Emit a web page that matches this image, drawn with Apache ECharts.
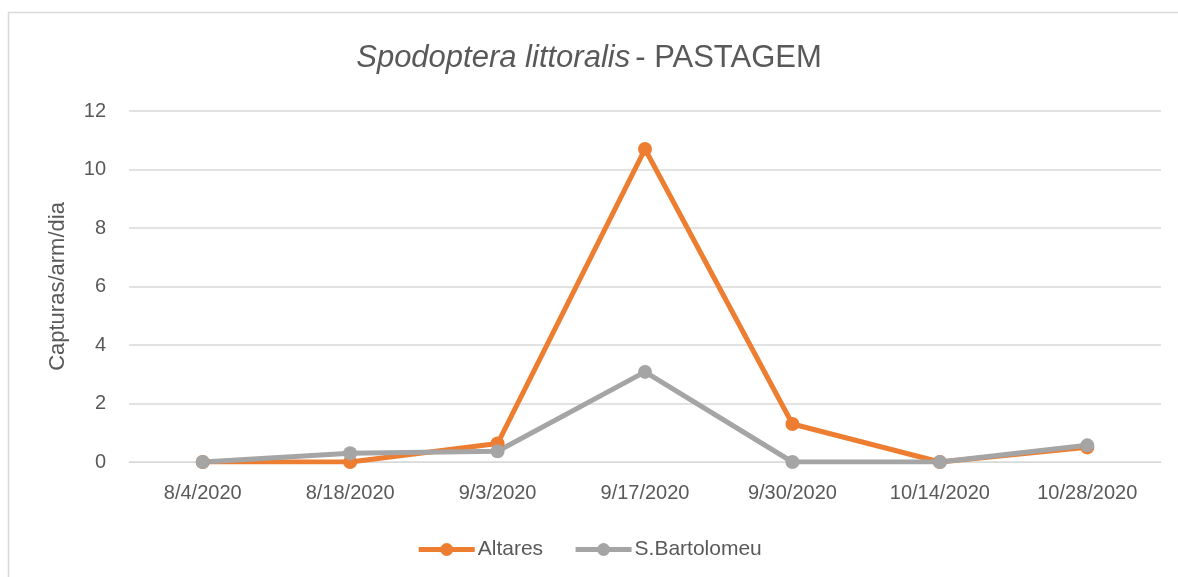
<!DOCTYPE html>
<html><head><meta charset="utf-8">
<script src="https://cdn.jsdelivr.net/npm/echarts@6/dist/echarts.min.js"></script>
<style>html,body{margin:0;padding:0;background:#fff}#c{width:1178px;height:577px}</style>
</head><body><div id="c"></div>
<script>
const categories = ['8/4/2020','8/18/2020','9/3/2020','9/17/2020','9/30/2020','10/14/2020','10/28/2020'];
const altares = [0, 0, 0.63, 10.7, 1.3, 0, 0.5];
const bartolomeu = [0, 0.3, 0.37, 3.08, 0, 0, 0.57];
const yTicks = {min: 0, max: 12, interval: 2};
const FONT = 'Liberation Sans, Arial, sans-serif';
const chart = echarts.init(document.getElementById('c'));
chart.setOption({
  animation: false,
  textStyle: {fontFamily: FONT},
  graphic: [{type:'rect', shape:{x:8.5,y:12.5,width:1200,height:600}, style:{fill:'none', stroke:'#d9d9d9', lineWidth:1.5}, silent:true}],
  title: {
    text: '{i|Spodoptera littoralis} {n|- PASTAGEM}',
    left: 'center', top: 38,
    textStyle: {
      fontWeight: 'normal',
      rich: {
        i: {fontStyle:'italic', fontWeight:'normal', fontSize: 31, color:'#595959', fontFamily: FONT},
        n: {fontWeight:'normal', fontSize: 31, color:'#595959', fontFamily: FONT}
      }
    }
  },
  legend: {
    top: 534, left: 'center',
    itemWidth: 56, itemHeight: 16, itemGap: 30,
    lineStyle: {width: 5},
    textStyle: {fontSize: 21, color:'#595959', fontFamily: FONT, padding:[0,0,0,-2]},
    data: ['Altares','S.Bartolomeu']
  },
  grid: {left: 129, right: 17, top: 111, bottom: 115},
  xAxis: {
    type: 'category', data: categories, boundaryGap: true,
    axisLine: {lineStyle: {color:'#d9d9d9', width: 1}},
    axisTick: {show: false},
    axisLabel: {fontSize: 20, color:'#595959', margin: 21, fontFamily: FONT}
  },
  yAxis: {
    type: 'value', min: yTicks.min, max: yTicks.max, interval: yTicks.interval,
    name: 'Capturas/arm/dia', nameLocation: 'middle', nameGap: 60, nameRotate: 90,
    nameTextStyle: {fontSize: 22, color:'#595959', fontFamily: FONT},
    axisLine: {show: false}, axisTick: {show: false},
    axisLabel: {fontSize: 20, color:'#595959', margin: 23, fontFamily: FONT},
    splitLine: {lineStyle: {color:'#d9d9d9', width: 1.5}}
  },
  series: [
    {name:'Altares', type:'line', data: altares, symbol:'circle', symbolSize: 14,
     lineStyle:{width:5, color:'#ED7D31'}, itemStyle:{color:'#ED7D31'}},
    {name:'S.Bartolomeu', type:'line', data: bartolomeu, symbol:'circle', symbolSize: 14,
     lineStyle:{width:5, color:'#A5A5A5'}, itemStyle:{color:'#A5A5A5'}}
  ]
});
</script></body></html>
